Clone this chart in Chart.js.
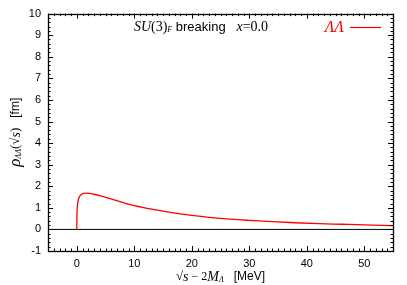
<!DOCTYPE html>
<html><head><meta charset="utf-8">
<script src="https://cdn.jsdelivr.net/npm/chart.js@4"></script>
<style>html,body{margin:0;padding:0;background:#fff}#c{display:block}</style>
</head><body>
<div style="width:407px;height:285px"><canvas id="c" width="407" height="285"></canvas></div>
<script>
// Data
const energy = [0, 0.02, 0.05, 0.1, 0.2, 0.3, 0.5, 0.8, 1.2, 1.6, 2.2, 3, 4, 5, 6, 7, 8, 9, 10, 12, 14, 16, 18, 20, 23, 26, 30, 34, 38, 42, 46, 50, 55];
const rhoLL  = [0, 0.5, 0.85, 1.05, 1.28, 1.4, 1.53, 1.62, 1.67, 1.68, 1.67, 1.63, 1.57, 1.49, 1.41, 1.33, 1.25, 1.17, 1.10, 0.99, 0.89, 0.80, 0.72, 0.65, 0.56, 0.49, 0.42, 0.36, 0.31, 0.27, 0.24, 0.21, 0.18];
const xTickLabels = [0, 10, 20, 30, 40, 50];
const yTickLabels = [-1, 0, 1, 2, 3, 4, 5, 6, 7, 8, 9, 10];
const xRange = [-5, 55];
const yRange = [-1, 10];

const TICKFONT = '"Liberation Sans", Arial, sans-serif';
const SERIF = '"Liberation Serif", "DejaVu Serif", serif';

function drawSegs(ctx, segs, cx, cy, color) {
  let w = 0;
  segs.forEach(s => { ctx.font = s.f; s.w = ctx.measureText(s.t).width; w += s.w; });
  let x = cx - w / 2;
  ctx.textBaseline = 'middle';
  ctx.textAlign = 'left';
  segs.forEach(s => { ctx.font = s.f; ctx.fillStyle = s.c || color; ctx.fillText(s.t, x, cy + (s.dy || 0)); x += s.w; });
}

const framePlugin = {
  id: 'frame',
  afterDatasetsDraw(chart) {
    const ctx = chart.ctx, a = chart.chartArea;
    const xs = chart.scales.x, ys = chart.scales.y;
    ctx.save();
    ctx.strokeStyle = '#000';
    ctx.lineWidth = 1;
    ctx.beginPath();
    for (let v = -5; v <= 55; v++) {
      const px = Math.round(xs.getPixelForValue(v)) + 0.5;
      const len = (v % 10 === 0) ? 5 : 2.5;
      ctx.moveTo(px, a.bottom); ctx.lineTo(px, a.bottom - len);
      ctx.moveTo(px, a.top); ctx.lineTo(px, a.top + len);
    }
    for (let i = -5; i <= 50; i++) {
      const v = i / 5;
      const py = Math.round(ys.getPixelForValue(v)) + 0.5;
      const len = (i % 5 === 0) ? 5 : 2.5;
      ctx.moveTo(a.left, py); ctx.lineTo(a.left + len, py);
      ctx.moveTo(a.right, py); ctx.lineTo(a.right - len, py);
    }
    ctx.stroke();
    ctx.lineWidth = 1.3;
    ctx.strokeRect(Math.round(a.left) + 0.5, Math.round(a.top) + 0.5, Math.round(a.right - a.left), Math.round(a.bottom - a.top));
    drawSegs(ctx, [
      {t: 'SU', f: 'italic 14px ' + SERIF},
      {t: '(3)', f: '14px ' + SERIF},
      {t: 'F', f: 'italic 8px ' + SERIF, dy: 3},
      {t: ' breaking   ', f: '13px ' + TICKFONT},
      {t: 'x', f: 'italic 14px ' + SERIF},
      {t: '=0.0', f: '14px ' + SERIF}
    ], 201, 27, '#000');
    ctx.font = 'italic 16px ' + SERIF;
    ctx.fillStyle = '#ff0000';
    ctx.textAlign = 'right';
    ctx.textBaseline = 'middle';
    ctx.fillText('\u039B\u039B', 344, 28);
    ctx.strokeStyle = '#ff0000';
    ctx.lineWidth = 1.2;
    ctx.beginPath(); ctx.moveTo(350, 27.5); ctx.lineTo(381, 27.5); ctx.stroke();
    drawSegs(ctx, [
      {t: '\u221A', f: '13px ' + SERIF},
      {t: 's', f: 'italic 14px ' + SERIF},
      {t: ' \u2212 2', f: '12px ' + SERIF},
      {t: 'M', f: 'italic 14px ' + SERIF},
      {t: '\u039B', f: 'italic 8px ' + SERIF, dy: 3},
      {t: '   [MeV]', f: '12px ' + TICKFONT}
    ], (a.left + a.right) / 2, 277, '#000');
    ctx.translate(16, (a.top + a.bottom) / 2);
    ctx.rotate(-Math.PI / 2);
    drawSegs(ctx, [
      {t: '\u03C1', f: 'italic 17px ' + SERIF},
      {t: '\u039B\u039B', f: 'italic 8px ' + SERIF, dy: 3},
      {t: '(\u221A', f: '13px ' + SERIF},
      {t: 's', f: 'italic 14px ' + SERIF},
      {t: ')', f: '13px ' + SERIF},
      {t: '   [fm]', f: '12px ' + TICKFONT}
    ], 0, 0, '#000');
    ctx.restore();
  }
};

new Chart(document.getElementById('c'), {
  type: 'scatter',
  data: {
    datasets: [
      {
        data: [{x: xRange[0], y: 0}, {x: xRange[1], y: 0}],
        showLine: true, borderColor: '#000', borderWidth: 1, pointRadius: 0, order: 2
      },
      {
        data: energy.map((e, i) => ({x: e, y: rhoLL[i]})),
        showLine: true, borderColor: '#ff0000', borderWidth: 1.3, pointRadius: 0,
        cubicInterpolationMode: 'monotone', order: 1
      }
    ]
  },
  plugins: [framePlugin],
  options: {
    responsive: false,
    animation: false,
    devicePixelRatio: 1,
    layout: {padding: {top: 10.4, right: 14, left: 0, bottom: 0}},
    plugins: {legend: {display: false}, tooltip: {enabled: false}},
    scales: {
      x: {
        type: 'linear', min: xRange[0], max: xRange[1],
        afterBuildTicks: s => { s.ticks = xTickLabels.map(v => ({value: v})); },
        afterFit: s => { s.height = 34; },
        grid: {display: false, drawTicks: false},
        border: {display: false},
        ticks: {color: '#000', font: {family: TICKFONT, size: 11}, padding: 6, maxRotation: 0, autoSkip: false}
      },
      y: {
        type: 'linear', min: yRange[0], max: yRange[1],
        afterBuildTicks: s => { s.ticks = yTickLabels.map(v => ({value: v})); },
        afterFit: s => { s.width = 48; },
        grid: {display: false, drawTicks: false},
        border: {display: false},
        ticks: {color: '#000', font: {family: TICKFONT, size: 11}, padding: 7, autoSkip: false}
      }
    }
  }
});
</script>
</body></html>
